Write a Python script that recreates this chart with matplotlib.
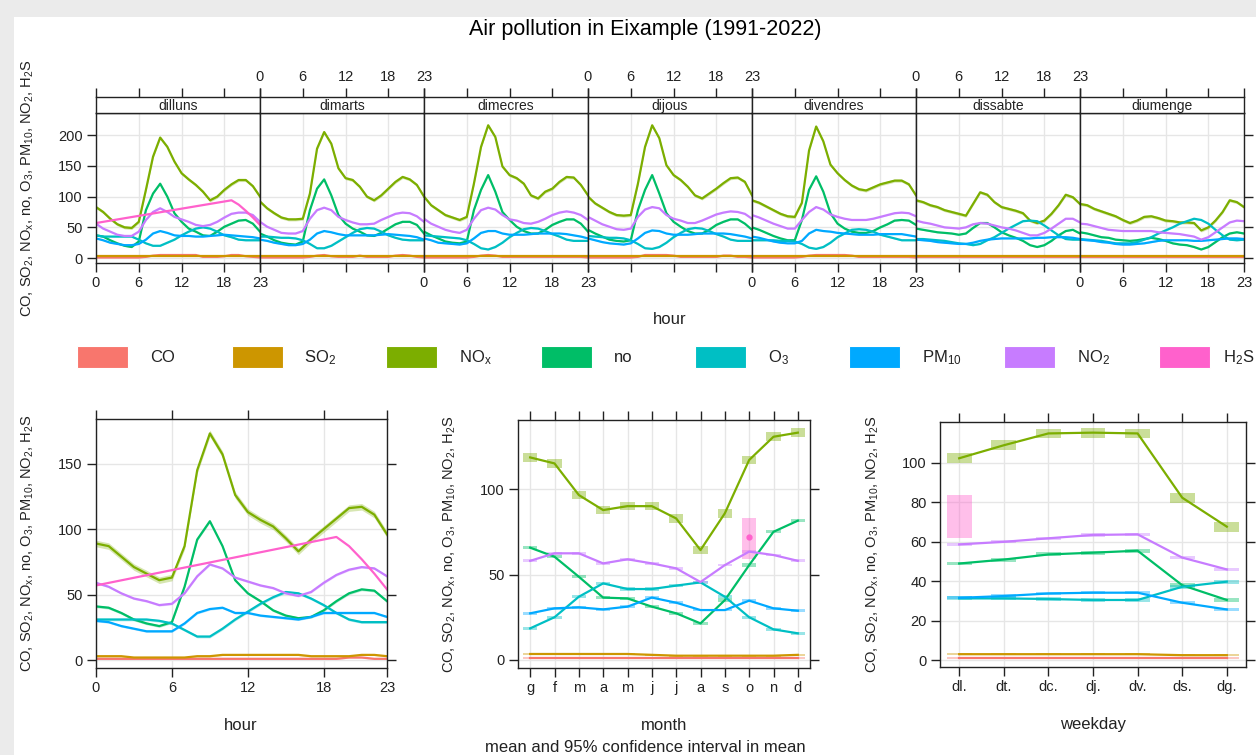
import numpy as np
import matplotlib
matplotlib.use("Agg")
import matplotlib.pyplot as plt
from matplotlib.patches import Rectangle

plt.rcParams["font.family"] = ["Liberation Sans", "DejaVu Sans"]
plt.rcParams["mathtext.default"] = "regular"

# ── data ────────────────────────────────────────────────────────────────────
pollutants = ["CO", "SO2", "NOx", "no", "O3", "PM10", "NO2", "H2S"]
labels = ["CO", "SO$_2$", "NO$_x$", "no", "O$_3$", "PM$_{10}$", "NO$_2$", "H$_2$S"]
colors = ["#F8766D", "#CD9600", "#7CAE00", "#00BE67", "#00BFC4", "#00A9FF", "#C77CFF", "#FF61CC"]

days = ["dilluns", "dimarts", "dimecres", "dijous", "divendres", "dissabte", "diumenge"]
hour_ticks = [0, 6, 12, 18, 23]
month_labels = ["g", "f", "m", "a", "m", "j", "j", "a", "s", "o", "n", "d"]
wday_labels = ["dl.", "dt.", "dc.", "dj.", "dv.", "ds.", "dg."]

# hour x weekday means (7 days x 24 hours)
co_d = [
    [1, 1, 1, 1, 1, 1, 1, 2, 4, 5, 5, 5, 5, 5, 5, 2, 2, 2, 3, 5, 5, 3, 2, 1],
    [1, 1, 1, 1, 1, 1, 1, 2, 4, 5, 3, 2, 2, 2, 4, 2, 2, 2, 2, 4, 5, 4, 2, 1],
    [1, 1, 1, 1, 1, 1, 1, 2, 4, 5, 4, 2, 2, 2, 2, 2, 2, 2, 2, 2, 2, 2, 2, 1],
    [1, 1, 1, 1, 1, 1, 1, 2, 5, 5, 5, 5, 4, 2, 2, 2, 2, 2, 2, 4, 4, 2, 2, 1],
    [1, 1, 1, 1, 1, 1, 1, 2, 4, 5, 5, 5, 5, 5, 4, 2, 2, 2, 2, 2, 2, 2, 2, 1],
    [1, 1, 1, 1, 1, 1, 1, 1, 1, 1, 1, 1, 1, 1, 1, 1, 1, 1, 1, 1, 1, 1, 1, 1],
    [1, 1, 1, 1, 1, 1, 1, 1, 1, 1, 1, 1, 1, 1, 1, 1, 1, 1, 1, 1, 1, 1, 1, 1],
]
so2_d = [
    [3, 3, 3, 3, 3, 3, 3, 3, 3, 3, 3, 3, 3, 3, 3, 3, 3, 3, 3, 3, 3, 3, 3, 3],
    [3, 3, 3, 3, 3, 3, 3, 3, 3, 3, 3, 3, 3, 3, 3, 3, 3, 3, 3, 3, 3, 3, 3, 3],
    [3, 3, 3, 3, 3, 3, 3, 3, 3, 3, 3, 3, 3, 3, 3, 3, 3, 3, 3, 3, 3, 3, 3, 3],
    [3, 3, 3, 3, 3, 3, 3, 3, 3, 3, 3, 3, 3, 3, 3, 3, 3, 3, 3, 3, 3, 3, 3, 3],
    [3, 3, 3, 3, 3, 3, 3, 3, 3, 3, 3, 3, 3, 3, 3, 3, 3, 3, 3, 3, 3, 3, 3, 3],
    [3, 3, 3, 3, 3, 3, 3, 3, 3, 3, 3, 3, 3, 3, 3, 3, 3, 3, 3, 3, 3, 3, 3, 3],
    [3, 3, 3, 3, 3, 3, 3, 3, 3, 3, 3, 3, 3, 3, 3, 3, 3, 3, 3, 3, 3, 3, 3, 3],
]
nox_d = [
    [83, 75, 64, 55, 50, 49, 59, 111, 165, 196, 181, 157, 138, 128, 119, 108, 94, 100, 111, 120, 127, 127, 117, 100],
    [92, 81, 73, 66, 63, 63, 64, 105, 178, 205, 186, 146, 130, 127, 116, 100, 94, 102, 113, 124, 132, 128, 119, 100],
    [100, 86, 78, 70, 66, 62, 67, 121, 181, 216, 197, 149, 135, 130, 121, 102, 97, 108, 113, 124, 132, 131, 119, 102],
    [100, 89, 82, 75, 70, 69, 70, 121, 181, 216, 195, 151, 135, 127, 116, 102, 97, 105, 113, 122, 130, 131, 124, 102],
    [94, 90, 84, 78, 72, 68, 67, 90, 175, 214, 190, 152, 138, 127, 118, 112, 110, 115, 120, 123, 126, 126, 120, 102],
    [94, 91, 86, 83, 78, 75, 72, 69, 88, 107, 103, 91, 83, 80, 77, 73, 61, 57, 61, 72, 86, 103, 99, 88],
    [88, 86, 80, 76, 72, 68, 62, 57, 61, 67, 68, 65, 61, 60, 58, 58, 57, 45, 50, 61, 75, 94, 91, 83],
]
no_d = [
    [37, 35, 29, 24, 20, 18, 27, 78, 105, 121, 100, 73, 59, 48, 43, 37, 36, 43, 51, 56, 61, 62, 56, 43],
    [40, 35, 29, 25, 23, 22, 27, 78, 113, 128, 102, 70, 56, 48, 43, 37, 36, 41, 48, 55, 59, 59, 54, 40],
    [43, 37, 32, 27, 25, 24, 27, 78, 111, 135, 108, 75, 62, 51, 44, 40, 40, 46, 54, 59, 63, 63, 56, 43],
    [46, 40, 35, 30, 28, 27, 29, 78, 111, 135, 105, 73, 59, 51, 44, 40, 40, 46, 54, 59, 63, 63, 56, 46],
    [50, 46, 41, 36, 32, 29, 29, 62, 111, 133, 108, 73, 56, 48, 43, 41, 41, 44, 50, 55, 61, 62, 61, 54],
    [48, 46, 44, 42, 41, 40, 38, 40, 49, 57, 57, 50, 42, 37, 33, 28, 21, 18, 21, 28, 37, 44, 46, 40],
    [42, 40, 37, 34, 33, 30, 29, 28, 29, 31, 33, 31, 28, 24, 22, 21, 18, 14, 18, 26, 34, 40, 42, 40],
]
o3_d = [
    [37, 35, 35, 35, 35, 35, 30, 24, 20, 20, 25, 30, 37, 43, 48, 50, 48, 43, 37, 34, 30, 29, 29, 29],
    [35, 35, 34, 33, 33, 32, 29, 23, 16, 16, 20, 27, 34, 41, 47, 49, 48, 43, 37, 33, 30, 29, 29, 29],
    [37, 36, 35, 34, 33, 32, 29, 23, 16, 14, 18, 25, 34, 41, 47, 49, 48, 44, 39, 35, 30, 28, 28, 28],
    [36, 35, 34, 33, 33, 32, 29, 23, 16, 15, 18, 25, 34, 41, 47, 49, 48, 44, 39, 35, 30, 28, 28, 28],
    [29, 29, 29, 29, 28, 28, 27, 23, 17, 15, 18, 25, 34, 40, 46, 47, 46, 43, 38, 35, 32, 29, 29, 29],
    [31, 31, 30, 29, 28, 26, 24, 23, 21, 23, 29, 34, 41, 48, 54, 60, 61, 60, 53, 45, 37, 31, 30, 30],
    [31, 30, 29, 28, 26, 24, 24, 24, 26, 30, 34, 40, 45, 50, 56, 60, 64, 62, 56, 46, 37, 30, 29, 30],
]
pm10_d = [
    [32, 29, 25, 23, 21, 21, 23, 30, 40, 44, 41, 37, 36, 36, 35, 35, 36, 37, 38, 37, 36, 35, 34, 32],
    [30, 28, 25, 23, 21, 21, 23, 30, 40, 44, 42, 39, 37, 37, 37, 37, 37, 38, 39, 38, 37, 36, 34, 30],
    [32, 29, 25, 24, 23, 22, 24, 32, 41, 44, 44, 40, 38, 38, 38, 39, 40, 40, 40, 40, 39, 37, 35, 32],
    [32, 29, 26, 24, 23, 22, 24, 32, 41, 45, 44, 40, 38, 38, 38, 39, 40, 40, 40, 40, 39, 37, 35, 32],
    [35, 33, 30, 27, 25, 24, 24, 28, 40, 46, 44, 43, 41, 40, 39, 38, 38, 38, 39, 39, 39, 39, 37, 35],
    [30, 29, 28, 26, 25, 24, 23, 23, 25, 28, 30, 31, 32, 32, 32, 32, 32, 33, 33, 34, 34, 34, 33, 31],
    [30, 29, 28, 26, 25, 23, 22, 22, 23, 24, 26, 28, 29, 29, 29, 29, 28, 28, 29, 30, 31, 32, 32, 31],
]
no2_d = [
    [56, 48, 43, 38, 36, 36, 43, 62, 75, 81, 75, 67, 63, 59, 54, 52, 54, 59, 66, 72, 74, 74, 70, 59],
    [59, 51, 46, 41, 40, 40, 44, 64, 78, 82, 78, 67, 62, 58, 55, 55, 56, 62, 67, 72, 74, 73, 68, 59],
    [64, 56, 51, 46, 43, 41, 46, 64, 78, 82, 79, 70, 63, 61, 57, 56, 59, 64, 70, 74, 76, 74, 70, 62],
    [67, 61, 55, 51, 47, 46, 48, 67, 79, 83, 81, 70, 64, 61, 57, 57, 61, 66, 71, 74, 76, 75, 72, 64],
    [70, 66, 61, 56, 52, 48, 48, 62, 75, 83, 79, 71, 67, 64, 62, 62, 62, 64, 67, 70, 73, 74, 73, 68],
    [61, 58, 56, 53, 50, 49, 48, 50, 55, 57, 56, 53, 50, 48, 45, 41, 37, 37, 41, 48, 56, 64, 64, 58],
    [56, 55, 52, 49, 46, 45, 44, 44, 44, 44, 44, 42, 41, 40, 39, 37, 35, 30, 34, 42, 50, 58, 61, 60],
]
# H2S only has Monday readings at a few hours
h2s_hours = [0, 19, 20, 21, 22, 23]
h2s_vals = [57, 94, 87, 77, 66, 54]

# hour of day
co_h = [1, 1, 1, 1, 1, 1, 1, 1, 1, 1, 1, 1, 1, 1, 1, 1, 1, 1, 1, 1, 2, 2, 1, 1]
so2_h = [3, 3, 3, 2, 2, 2, 2, 2, 3, 3, 4, 4, 4, 4, 4, 4, 4, 3, 3, 3, 3, 4, 4, 3]
nox_h = [89, 87, 79, 71, 66, 61, 63, 87, 145, 173, 157, 126, 113, 107, 102, 93, 83, 92, 100, 108, 116, 117, 111, 96]
no_h = [41, 40, 36, 31, 28, 26, 29, 56, 92, 106, 87, 61, 51, 45, 38, 34, 32, 33, 38, 45, 51, 54, 53, 45]
o3_h = [31, 31, 31, 31, 31, 30, 28, 23, 18, 18, 24, 31, 37, 43, 48, 52, 51, 47, 42, 36, 31, 29, 29, 29]
pm10_h = [30, 29, 26, 24, 22, 22, 22, 28, 36, 39, 40, 36, 36, 34, 33, 32, 31, 33, 36, 36, 36, 36, 36, 33]
no2_h = [59, 56, 51, 47, 45, 42, 43, 51, 64, 73, 70, 63, 60, 57, 55, 51, 49, 52, 59, 65, 69, 71, 70, 64]

# month
co_m = [1, 1, 1, 1, 1, 1, 1, 1, 1, 1, 1, 1]
so2_m = [3.5, 3.5, 3.5, 3.5, 3.5, 3, 2.5, 2.5, 2.5, 2.5, 2.5, 3]
nox_m = [118.5, 115, 96.5, 87.7, 90, 90, 82.8, 64.3, 85.8, 117, 130.6, 133]
no_m = [65.7, 60.4, 48.7, 36.5, 36, 31.2, 27.3, 21.4, 35, 55.5, 75, 81.5]
o3_m = [18.5, 25, 37, 44.8, 41.5, 41.5, 43.5, 45.4, 37, 25, 17.9, 15.6]
pm10_m = [27.3, 30.2, 30.8, 29.6, 31.2, 36.5, 33.5, 29.2, 29.2, 34.7, 30.2, 28.8]
no2_m = [58, 62.4, 62.4, 56.5, 58.9, 56.5, 53.6, 45.6, 55.5, 63.4, 61.4, 58]
h2s_month, h2s_m_mean, h2s_m_lo, h2s_m_hi = 10, 72, 59, 83

# weekday
co_w = [1, 1, 1, 1, 1, 1, 1]
so2_w = [3, 3, 3, 3, 3, 2.5, 2.5]
nox_w = [102.4, 109, 115, 115.4, 115, 82.4, 67.7]
no_w = [49, 51, 53.6, 54.5, 55.5, 38, 30.5]
o3_w = [31.3, 31.3, 31, 30.5, 30.5, 37.2, 39.8]
pm10_w = [31.6, 32.5, 33.8, 34.2, 34.2, 29.1, 25.7]
no2_w = [58.7, 60, 61.8, 63.5, 63.8, 52, 46]
h2s_wday, h2s_w_mean, h2s_w_lo, h2s_w_hi = 1, 73, 62, 84

# half-width of the 95% interval
ci_half = {"CO": 0.5, "SO2": 0.5, "NOx": 2.5, "no": 1, "O3": 1, "PM10": 0.8, "NO2": 0.8}

# ── helpers ─────────────────────────────────────────────────────────────────
W, H = 1256, 755
EDGE = "#222222"
GRID = "#e6e6e6"
LW = 1.6

fig = plt.figure(figsize=(W / 100, H / 100), dpi=100, facecolor="#ebebeb")
fig.add_artist(Rectangle((14 / W, 0), 1, 1 - 17 / H, transform=fig.transFigure,
                         facecolor="white", edgecolor="none", zorder=-5))


def px_axes(x0, y0, x1, y1):
    return fig.add_axes([x0 / W, 1 - y1 / H, (x1 - x0) / W, (y1 - y0) / H])


def style(ax):
    for s in ax.spines.values():
        s.set_color(EDGE)
        s.set_linewidth(1)
    ax.tick_params(direction="out", length=6.5, width=1, color=EDGE,
                   labelcolor=EDGE, labelsize=10.5, pad=3)
    ax.grid(True, color=GRID, lw=1)
    ax.set_axisbelow(True)


color_of = dict(zip(pollutants, colors))
ylab = ", ".join(labels)

# ── top: hour by weekday ────────────────────────────────────────────────────
top_series = [("CO", co_d), ("SO2", so2_d), ("NOx", nox_d), ("no", no_d),
              ("O3", o3_d), ("PM10", pm10_d), ("NO2", no2_d)]
hours = np.arange(24)
px0, pw = 96, 164
for i, day in enumerate(days):
    x0, x1 = px0 + pw * i, px0 + pw * (i + 1)
    ax = px_axes(x0, 113, x1, 263)
    style(ax)
    for key, vals in top_series:
        v = np.array(vals[i], float)
        c = color_of[key]
        ax.fill_between(hours, v - ci_half[key], v + ci_half[key], color=c, alpha=0.3, lw=0)
        ax.plot(hours, v, color=c, lw=LW)
    if i == 0:
        ax.plot(h2s_hours, h2s_vals, color=color_of["H2S"], lw=LW)
    ax.set_xlim(0, 23)
    ax.set_ylim(-8, 236)
    ax.set_xticks(hour_ticks)
    ax.set_xticklabels([str(h) for h in hour_ticks])
    ax.set_yticks([0, 50, 100, 150, 200])
    ax.tick_params(axis="x", top=False, labelbottom=(i % 2 == 0))
    ax.tick_params(axis="y", left=(i == 0), labelleft=(i == 0), right=(i == 6), labelright=False)

    sx = px_axes(x0, 97, x1, 113)
    for s in sx.spines.values():
        s.set_color(EDGE)
        s.set_linewidth(1)
    sx.set_xlim(0, 23)
    sx.set_xticks(hour_ticks)
    sx.set_xticklabels([str(h) for h in hour_ticks])
    sx.set_yticks([])
    sx.tick_params(axis="x", direction="out", length=6.5, width=1, color=EDGE, labelcolor=EDGE,
                   labelsize=10.5, pad=3, bottom=False, labelbottom=False,
                   top=True, labeltop=(i % 2 == 1))
    sx.text(0.5, 0.45, day, transform=sx.transAxes, ha="center", va="center",
            fontsize=10, color=EDGE)

fig.text(645 / W, 1 - 30 / H, "Air pollution in Eixample (1991-2022)",
         ha="center", va="center", fontsize=15.5, color="black")
fig.text(28 / W, 1 - 188 / H, ylab, rotation=90, ha="center", va="center", fontsize=10.5, color=EDGE)
fig.text(670 / W, 1 - 320 / H, "hour", ha="center", va="center", fontsize=12, color=EDGE)

# ── legend ──────────────────────────────────────────────────────────────────
for k, (lab, c) in enumerate(zip(labels, colors)):
    lx = 77 + 154.5 * k
    fig.add_artist(Rectangle((lx / W, 1 - 368 / H), 51 / W, 22 / H, transform=fig.transFigure,
                             facecolor=c, edgecolor="white", lw=0.8))
    tx = min(lx + 73, W - 33)
    fig.text(tx / W, 1 - 358 / H, lab, ha="left", va="center", fontsize=12, color=EDGE)

# ── bottom left: hour ───────────────────────────────────────────────────────
hour_series = [("CO", co_h), ("SO2", so2_h), ("NOx", nox_h), ("no", no_h),
               ("O3", o3_h), ("PM10", pm10_h), ("NO2", no2_h)]
ax = px_axes(96, 419, 387, 668)
style(ax)
for key, vals in hour_series:
    v = np.array(vals, float)
    c = color_of[key]
    ax.fill_between(hours, v - ci_half[key], v + ci_half[key], color=c, alpha=0.3, lw=0)
    ax.plot(hours, v, color=c, lw=LW)
ax.plot(h2s_hours, h2s_vals, color=color_of["H2S"], lw=LW)
ax.set_xlim(0, 23)
ax.set_ylim(-6, 184)
ax.set_xticks(hour_ticks)
ax.set_yticks([0, 50, 100, 150])
ax.tick_params(top=True, right=True)
fig.text(28 / W, 1 - 543 / H, ylab, rotation=90, ha="center", va="center", fontsize=10.5, color=EDGE)
fig.text(241 / W, 1 - 725 / H, "hour", ha="center", va="center", fontsize=12, color=EDGE)

# ── bottom middle: month ────────────────────────────────────────────────────
month_series = [("CO", co_m), ("SO2", so2_m), ("NOx", nox_m), ("no", no_m),
                ("O3", o3_m), ("PM10", pm10_m), ("NO2", no2_m)]
mx = np.arange(1, 13)
ax = px_axes(518, 420, 810, 668)
style(ax)
for key, vals in month_series:
    v = np.array(vals, float)
    c = color_of[key]
    ax.bar(mx, 2 * ci_half[key], bottom=v - ci_half[key], width=0.6, color=c, alpha=0.4, lw=0)
    ax.plot(mx, v, color=c, lw=LW)
ax.bar(h2s_month, h2s_m_hi - h2s_m_lo, bottom=h2s_m_lo, width=0.6,
       color=color_of["H2S"], alpha=0.4, lw=0)
ax.plot(h2s_month, h2s_m_mean, "o", color=color_of["H2S"], ms=3.5)
ax.set_xlim(0.5, 12.5)
ax.set_ylim(-4.7, 140.4)
ax.set_xticks(mx)
ax.set_xticklabels(month_labels)
ax.set_yticks([0, 50, 100])
ax.tick_params(top=True, right=True)
fig.text(450 / W, 1 - 544 / H, ylab, rotation=90, ha="center", va="center", fontsize=10.5, color=EDGE)
fig.text(664 / W, 1 - 725 / H, "month", ha="center", va="center", fontsize=12, color=EDGE)
fig.text(645 / W, 1 - 747 / H, "mean and 95% confidence interval in mean",
         ha="center", va="center", fontsize=12, color=EDGE)

# ── bottom right: weekday ───────────────────────────────────────────────────
wday_series = [("CO", co_w), ("SO2", so2_w), ("NOx", nox_w), ("no", no_w),
               ("O3", o3_w), ("PM10", pm10_w), ("NO2", no2_w)]
wx = np.arange(1, 8)
ax = px_axes(940, 422, 1246, 667)
style(ax)
for key, vals in wday_series:
    v = np.array(vals, float)
    c = color_of[key]
    ax.bar(wx, 2 * ci_half[key], bottom=v - ci_half[key], width=0.56, color=c, alpha=0.4, lw=0)
    ax.plot(wx, v, color=c, lw=LW)
ax.bar(h2s_wday, h2s_w_hi - h2s_w_lo, bottom=h2s_w_lo, width=0.56,
       color=color_of["H2S"], alpha=0.4, lw=0)
ax.plot([h2s_wday], [h2s_w_mean], color=color_of["H2S"], lw=LW)
ax.set_xlim(0.57, 7.43)
ax.set_ylim(-3.5, 120.8)
ax.set_xticks(wx)
ax.set_xticklabels(wday_labels)
ax.set_yticks([0, 20, 40, 60, 80, 100])
ax.tick_params(top=True, right=True)
fig.text(873 / W, 1 - 544 / H, ylab, rotation=90, ha="center", va="center", fontsize=10.5, color=EDGE)
fig.text(1093 / W, 1 - 725 / H, "weekday", ha="center", va="center", fontsize=12, color=EDGE)

fig.savefig("out.png", dpi=100, facecolor=fig.get_facecolor())
